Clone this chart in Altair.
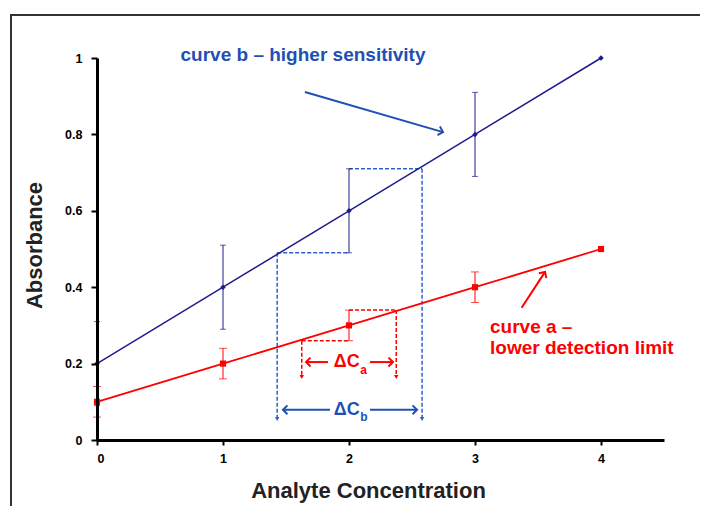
import altair as alt
import pandas as pd

# ---- data ----
conc = [0, 1, 2, 3, 4]
abs_b = [0.2, 0.4, 0.6, 0.8, 1.0]        # curve b (higher sensitivity)
abs_a = [0.1, 0.2, 0.3, 0.4, 0.5]        # curve a (lower detection limit)
err_conc = [0, 1, 2, 3]
err_b = [0.11, 0.11, 0.11, 0.11]
err_a = [0.04, 0.04, 0.04, 0.04]

# dashed guide segments (x, y, x2, y2)
blue_guides = [(1.43, 0.49, 2.0, 0.49), (2.0, 0.71, 2.58, 0.71),
               (1.43, 0.49, 1.43, 0.055), (2.58, 0.71, 2.58, 0.055)]
red_guides = [(1.625, 0.26, 2.0, 0.26), (2.0, 0.34, 2.375, 0.34),
              (1.625, 0.26, 1.625, 0.165), (2.375, 0.34, 2.375, 0.165)]
# arrow segments (x, y, x2, y2) - arrow head at (x2, y2)
blue_arrows = [(1.849, 0.079, 1.476, 0.079), (2.167, 0.079, 2.54, 0.079),
               (1.65, 0.911, 2.746, 0.806)]
red_arrows = [(1.833, 0.204, 1.659, 0.204), (2.167, 0.204, 2.349, 0.204),
              (3.37, 0.346, 3.556, 0.44)]
blue_head_angles = [180, 0, 16]
red_head_angles = [180, 0, 303]

BLUE_LINE = "#1c1c8c"
BLUE_NOTE = "#1f4fb5"
BLUE_DASH = "#2f62c4"
RED = "#ff0000"
FONT = "Liberation Sans"

xs = alt.Scale(domain=[0, 4.5], nice=False)
ys = alt.Scale(domain=[0, 1], nice=False)

main = pd.DataFrame({"c": conc, "b": abs_b, "a": abs_a})
errs = pd.DataFrame({"c": err_conc,
                     "b_lo": [v - e for v, e in zip(abs_b[:4], err_b)],
                     "b_hi": [v + e for v, e in zip(abs_b[:4], err_b)],
                     "a_lo": [v - e for v, e in zip(abs_a[:4], err_a)],
                     "a_hi": [v + e for v, e in zip(abs_a[:4], err_a)]})


def seg_df(segs):
    return pd.DataFrame(segs, columns=["x", "y", "x2", "y2"])


AX = dict(domainColor="black", domainWidth=3, tickColor="black", tickWidth=2,
          zindex=1, grid=False)
X = alt.X("c:Q", scale=xs, axis=alt.Axis(
    values=[0, 1, 2, 3, 4], format="~g", title="Analyte Concentration",
    titleX=271, titleY=57, titleBaseline="alphabetic", titleAlign="center",
    tickSize=5, labelPadding=7, **AX))
Y = alt.Y("b:Q", scale=ys, axis=alt.Axis(
    values=[0, 0.2, 0.4, 0.6, 0.8, 1.0], format="~g", title="Absorbance",
    titleX=-56, titleY=187, titleBaseline="alphabetic", titleAlign="center",
    titleAngle=270, tickSize=6, labelPadding=9, **AX))

frame = alt.Chart(pd.DataFrame({"k": [0]})).mark_rect(
    filled=False, stroke="#333333", strokeWidth=2).encode(
    x=alt.value(-86), x2=alt.value(720), y=alt.value(-43), y2=alt.value(620))

line_b = alt.Chart(main).mark_line(color=BLUE_LINE, strokeWidth=1.5).encode(x=X, y=Y)
pts_b = alt.Chart(main).mark_point(shape="diamond", filled=True, size=30,
                                   color=BLUE_LINE, opacity=1).encode(x="c:Q", y="b:Q")
line_a = alt.Chart(main).mark_line(color=RED, strokeWidth=1.8).encode(
    x="c:Q", y=alt.Y("a:Q"))
pts_a = alt.Chart(main).mark_point(shape="square", filled=True, size=38,
                                   color=RED, opacity=1).encode(x="c:Q", y="a:Q")

eb_b = alt.Chart(errs).mark_rule(color=BLUE_LINE, strokeWidth=1).encode(
    x="c:Q", y="b_lo:Q", y2="b_hi:Q")
cap_b = (alt.Chart(errs).mark_tick(color=BLUE_LINE, orient="horizontal", size=6, thickness=1)
         .encode(x="c:Q", y="b_lo:Q")
         + alt.Chart(errs).mark_tick(color=BLUE_LINE, orient="horizontal", size=6, thickness=1)
         .encode(x="c:Q", y="b_hi:Q"))
eb_a = alt.Chart(errs).mark_rule(color=RED, strokeWidth=1).encode(
    x="c:Q", y="a_lo:Q", y2="a_hi:Q")
cap_a = (alt.Chart(errs).mark_tick(color=RED, orient="horizontal", size=8, thickness=1)
         .encode(x="c:Q", y="a_lo:Q")
         + alt.Chart(errs).mark_tick(color=RED, orient="horizontal", size=8, thickness=1)
         .encode(x="c:Q", y="a_hi:Q"))


def dashed(segs, color):
    d = seg_df(segs)
    lines = alt.Chart(d).mark_rule(color=color, strokeWidth=1.5, strokeDash=[4, 2]).encode(
        x="x:Q", y="y:Q", x2="x2:Q", y2="y2:Q")
    heads = alt.Chart(d[d["x"] == d["x2"]]).mark_point(
        shape="triangle-down", filled=True, size=20, color=color, opacity=1).encode(
        x="x2:Q", y="y2:Q")
    return lines + heads


def arrows(segs, angles, color):
    d = seg_df(segs)
    d["ang"] = angles
    lines = alt.Chart(d).mark_rule(color=color, strokeWidth=2).encode(
        x="x:Q", y="y:Q", x2="x2:Q", y2="y2:Q")
    heads = alt.Chart(d).mark_point(
        shape="M-1,-1L0,0L-1,1", filled=False, size=80, color=color,
        strokeWidth=2, opacity=1).encode(
        x="x2:Q", y="y2:Q", angle=alt.Angle("ang:Q", scale=None))
    return lines + heads


def txt(x, y, s, color, size=19, align="center", baseline="middle"):
    return alt.Chart(pd.DataFrame({"x": [x], "y": [y], "t": [s]})).mark_text(
        color=color, fontSize=size, fontWeight="bold", font=FONT,
        align=align, baseline=baseline).encode(x="x:Q", y="y:Q", text="t:N")


texts = (
    txt(1.635, 1.008, "curve b \u2013 higher sensitivity", BLUE_NOTE)
    + txt(3.119, 0.296, "curve a \u2013", RED, align="left")
    + txt(3.119, 0.241, "lower detection limit", RED, align="left")
    + txt(2.085, 0.204, "\u0394C", RED, size=18, align="right")
    + txt(2.09, 0.184, "a", RED, size=12, align="left")
    + txt(2.085, 0.079, "\u0394C", BLUE_NOTE, size=18, align="right")
    + txt(2.09, 0.059, "b", BLUE_NOTE, size=12, align="left")
)

chart = alt.layer(
    frame,
    dashed(blue_guides, BLUE_DASH), dashed(red_guides, RED),
    eb_b, cap_b, eb_a, cap_a,
    line_b, line_a, pts_b, pts_a,
    arrows(blue_arrows, blue_head_angles, BLUE_NOTE),
    arrows(red_arrows, red_head_angles, RED),
    texts,
).properties(
    width=567, height=382,
    autosize=alt.AutoSizeParams(type="none"),
    padding={"left": 89, "top": 50, "right": 36, "bottom": 66},
).configure_view(stroke=None).configure_axis(
    labelFont=FONT, labelFontSize=12.5, labelFontWeight="bold",
    labelColor="black", titleFont=FONT, titleFontSize=22, titleFontWeight="bold",
    titleColor="#222222",
)

chart.save("out.html", embed_options={"renderer": "svg", "actions": False})
